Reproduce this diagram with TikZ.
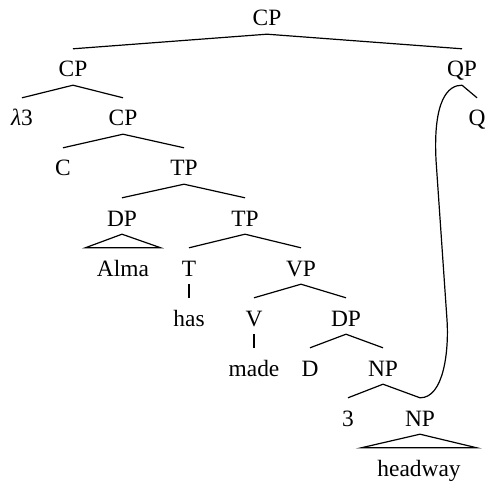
\documentclass[tikz,border=0pt]{standalone}
\usepackage{fontspec}
\setmainfont{Liberation Serif}
\usetikzlibrary{positioning}

\begin{document}
\begin{tikzpicture}[
  x=1bp,
  y=-1bp,
  font=\fontsize{23.5}{28}\selectfont,
  cat/.style={anchor=base,inner xsep=1pt,inner ysep=3bp,text height=25bp,text depth=5bp},
  roof/.style={cat,inner xsep=#1},
  branch/.style={draw=black,line width=1.2bp},
  move/.style={draw=black,line width=1.2bp}
]
  \useasboundingbox (0,0) rectangle (486,482);

  \node[cat] (cp) at (267,26) {CP};
  \node[cat] (cpa) at (73,77) {CP};
  \node[cat] (qp) at (462,77) {QP};
  \node[cat] (lam) at (22,126) {\textit{λ}3};
  \node[cat] (cpb) at (123,126) {CP};
  \node[cat] (q) at (477,126) {Q};
  \node[cat] (c) at (63,176) {C};
  \node[cat] (tpa) at (184,176) {TP};
  \node[cat] (dpa) at (122,226) {DP};
  \node[cat] (tpb) at (245,226) {TP};
  \node[roof=11.5bp] (alma) at (123,276) {Alma};
  \node[cat] (t) at (189,276) {T};
  \node[cat] (vp) at (301,276) {VP};
  \node[cat] (has) at (189,326) {has};
  \node[cat] (v) at (254,326) {V};
  \node[cat] (dpb) at (346,326) {DP};
  \node[cat] (made) at (254,376) {made};
  \node[cat] (d) at (310,376) {D};
  \node[cat] (npa) at (383,376) {NP};
  \node[cat] (three) at (348,426) {3};
  \node[cat] (npb) at (420,426) {NP};
  \node[roof=16bp] (headway) at (419,476) {headway};

  \foreach \a/\b in {cp/cpa,cp/qp,cpa/lam,cpa/cpb,qp/q,cpb/c,cpb/tpa,tpa/dpa,tpa/tpb,
      tpb/t,tpb/vp,t/has,vp/v,vp/dpb,v/made,dpb/d,dpb/npa,npa/three,npa/npb}
    \draw[branch] (\a.south) -- (\b.north);

  % roofs
  \draw[branch] (dpa.south) -- (alma.north west) -- (alma.north east) -- cycle;
  \draw[branch] (npb.south) -- (headway.north west) -- (headway.north east) -- cycle;

  % movement line
  \draw[move] (npb.north) .. controls (444,398) and (449,350) .. (447,320)
    -- (436,160) .. controls (433,100) and (448,85) .. (qp.south);
\end{tikzpicture}
\end{document}
